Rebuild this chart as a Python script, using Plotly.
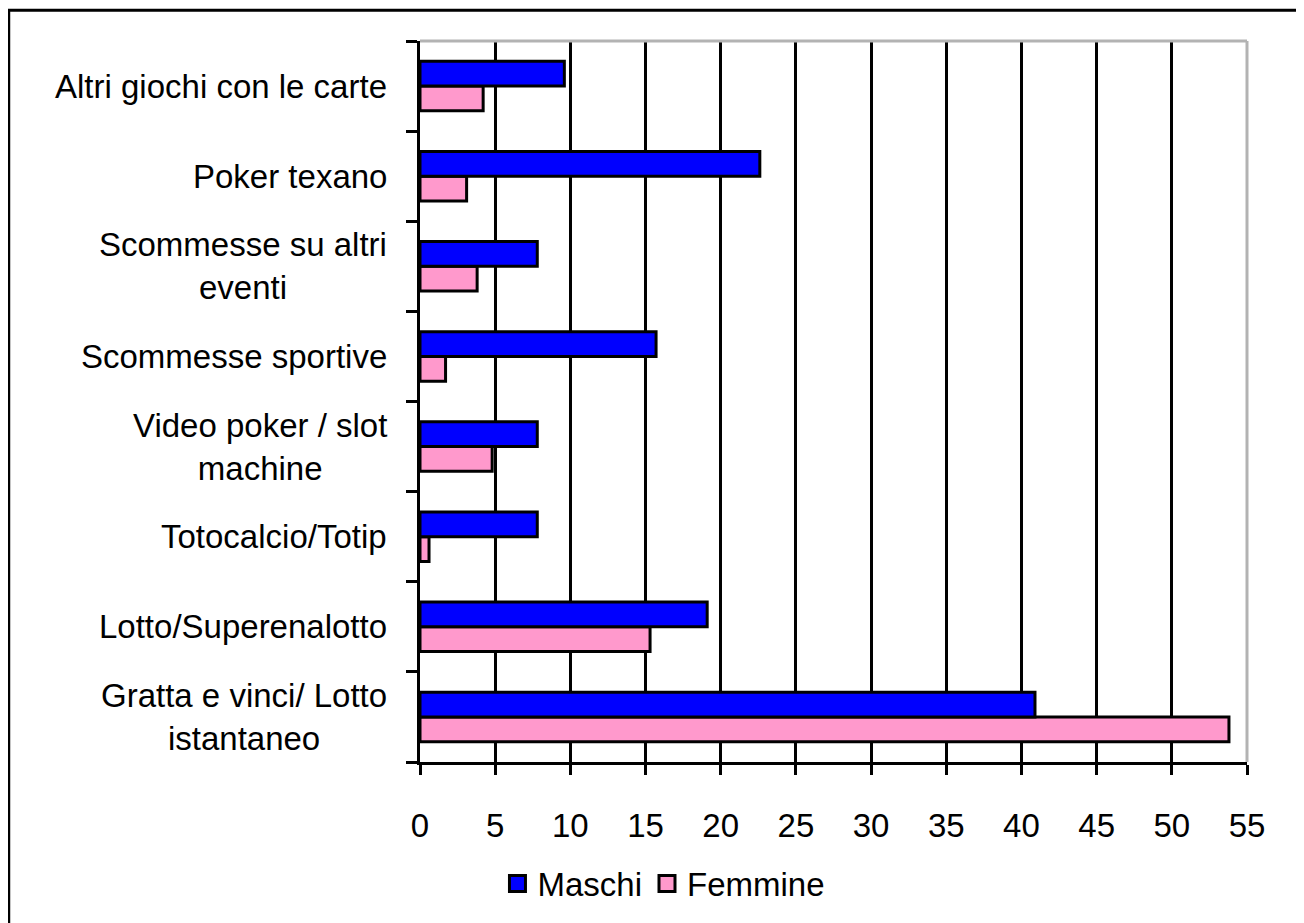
import plotly.graph_objects as go

categories = [
    "Gratta e vinci/ Lotto istantaneo",
    "Lotto/Superenalotto",
    "Totocalcio/Totip",
    "Video poker / slot machine",
    "Scommesse sportive",
    "Scommesse su altri eventi",
    "Poker texano",
    "Altri giochi con le carte",
]
category_labels = [
    "Gratta e vinci/ Lotto<br>istantaneo",
    "Lotto/Superenalotto",
    "Totocalcio/Totip",
    "Video poker / slot<br>machine",
    "Scommesse sportive",
    "Scommesse su altri<br>eventi",
    "Poker texano",
    "Altri giochi con le carte",
]
maschi = [40.9, 19.1, 7.8, 7.8, 15.7, 7.8, 22.6, 9.6]
femmine = [53.8, 15.3, 0.6, 4.8, 1.7, 3.8, 3.1, 4.2]
x_ticks = [0, 5, 10, 15, 20, 25, 30, 35, 40, 45, 50, 55]

FONT = "Liberation Sans, Arial, sans-serif"
BLUE = "#0000FF"
PINK = "#FF99CC"

fig = go.Figure()
fig.add_trace(go.Bar(
    y=categories, x=femmine, orientation="h", name="Femmine", showlegend=False,
    marker=dict(color=PINK, line=dict(color="black", width=3)),
))
fig.add_trace(go.Bar(
    y=categories, x=maschi, orientation="h", name="Maschi", showlegend=False,
    marker=dict(color=BLUE, line=dict(color="black", width=3)),
))
# legend entries (square swatches)
for name, col in [("Maschi", BLUE), ("Femmine", PINK)]:
    fig.add_trace(go.Scatter(
        x=[None], y=[None], mode="markers", name=name,
        marker=dict(symbol="square", size=18, color=col,
                    line=dict(color="black", width=3)),
    ))

annotations = []
for cat, lab in zip(categories, category_labels):
    annotations.append(dict(
        x=0, xref="paper", y=cat, yref="y", text=lab, showarrow=False,
        xanchor="right", yanchor="middle", align="center", xshift=-31,
        font=dict(family=FONT, size=33, color="black"),
    ))

fig.update_layout(
    width=1296, height=915,
    margin=dict(l=412, r=57, t=33, b=158),
    paper_bgcolor="white", plot_bgcolor="white",
    barmode="group", bargap=0.45, bargroupgap=0,
    font=dict(family=FONT, size=33, color="black"),
    showlegend=True,
    legend=dict(
        orientation="h", x=0.295, xanchor="center", y=-0.1685, yanchor="middle",
        font=dict(family=FONT, size=33, color="black"),
        bgcolor="rgba(0,0,0,0)", itemwidth=30, tracegroupgap=0,
    ),
    xaxis=dict(
        range=[0, 55], tickmode="array", tickvals=x_ticks,
        ticktext=[str(v) for v in x_ticks],
        showgrid=True, gridcolor="black", gridwidth=3, zeroline=False,
        showline=True, linecolor="black", linewidth=3,
        ticks="outside", ticklen=10, tickwidth=3, tickcolor="black",
        ticklabelstandoff=22,
        tickfont=dict(family=FONT, size=33, color="black"),
    ),
    yaxis=dict(
        type="category", showgrid=False, zeroline=False,
        showline=True, linecolor="black", linewidth=3,
        ticks="outside", ticklen=11, tickwidth=3, tickcolor="black",
        tickson="boundaries", showticklabels=False,
    ),
    annotations=annotations,
    shapes=[
        dict(type="line", xref="paper", yref="paper", x0=0, x1=1, y0=1, y1=1,
             line=dict(color="#b3b3b3", width=3), layer="above"),
        dict(type="line", xref="paper", yref="paper", x0=1, x1=1, y0=0, y1=1,
             line=dict(color="#b3b3b3", width=3), layer="above"),
        dict(type="rect", xref="paper", yref="paper",
             x0=-0.4973, x1=1.2, y0=1.0428, y1=-0.3,
             line=dict(color="black", width=3), fillcolor="rgba(0,0,0,0)",
             layer="above"),
    ],
)

fig.write_html("out.html")
